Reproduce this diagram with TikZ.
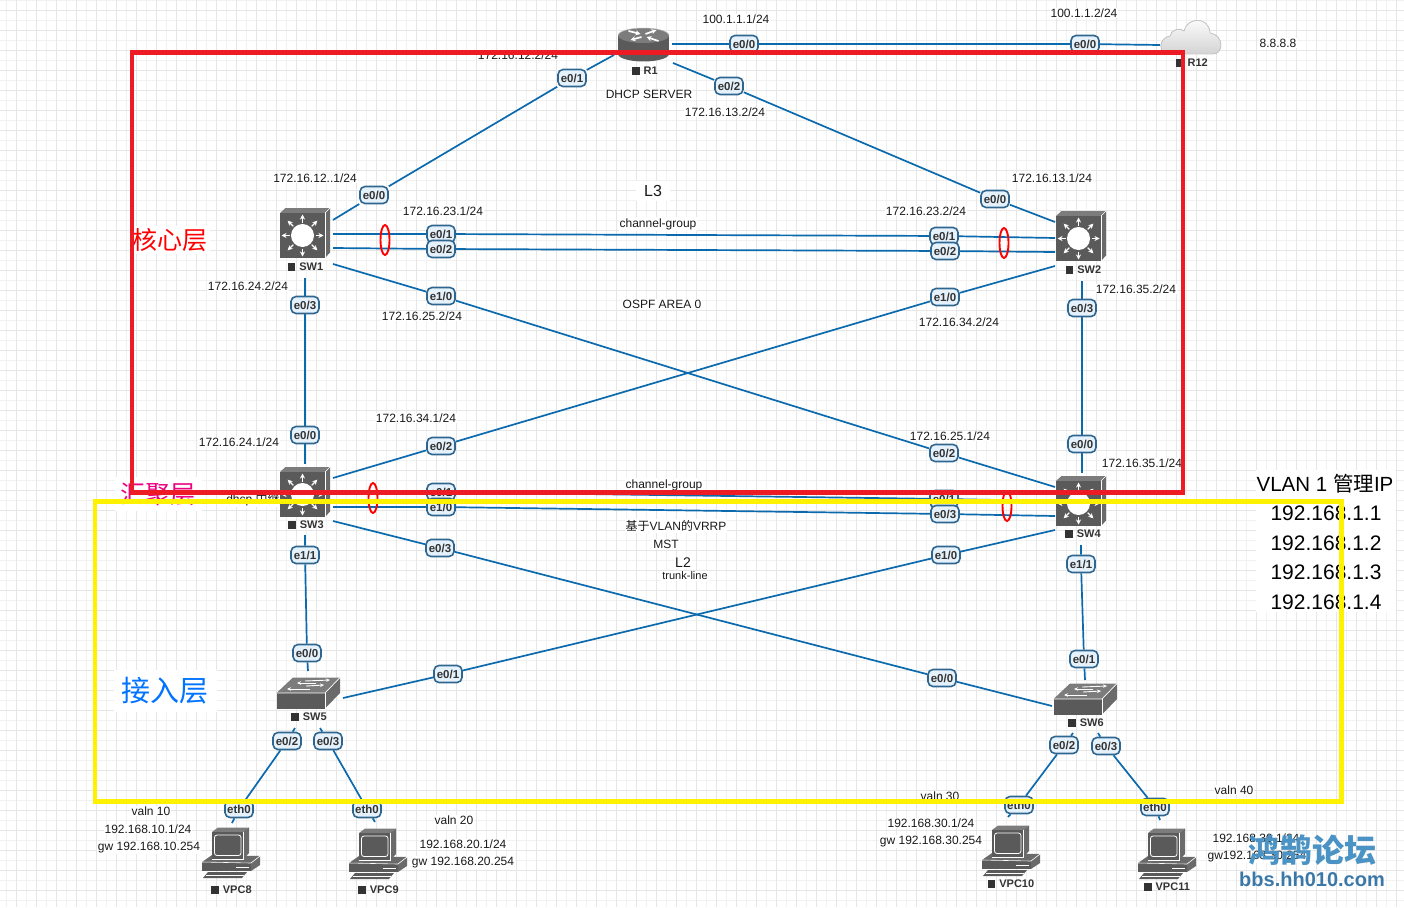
\documentclass[tikz,border=0pt]{standalone}
\usepackage{fontspec}
\setmainfont{Liberation Sans}
\newfontfamily\cjkf{Noto Sans CJK SC}
\usetikzlibrary{arrows.meta,shapes.geometric}
\pgfdeclarelayer{bg}
\pgfsetlayers{bg,main}
\definecolor{linkblue}{HTML}{0B69AD}
\definecolor{ifacefill}{HTML}{E6F2FB}
\definecolor{ifaceedge}{HTML}{2F6690}
\definecolor{devdark}{HTML}{5A5A5A}
\definecolor{devmid}{HTML}{6A6A6A}
\definecolor{devlite}{HTML}{7C7C7C}
\definecolor{gridmajor}{HTML}{E6E6E6}
\definecolor{gridminor}{HTML}{F1F1F1}
\definecolor{boxred}{HTML}{ED1C24}
\definecolor{boxyellow}{HTML}{FFF200}
\definecolor{markblack}{HTML}{333333}
\definecolor{forumcjk}{HTML}{4A93C4}
\definecolor{forumurl}{HTML}{3A78A8}
\newcommand{\fsz}[1]{\fontsize{#1}{#1}\selectfont}
\newcommand{\devmark}{\rule{7.5pt}{7.5pt}\hspace{4pt}}
\tikzset{
  link/.style={draw=linkblue,line width=1.7pt},
  iface/.style={draw=ifaceedge,fill=ifacefill,line width=1.6pt,rounded corners=5pt,
    minimum width=28pt,minimum height=17pt,inner sep=0pt,font=\fsz{11.5}\bfseries,text=black!80},
  txt/.style={fill=white,inner xsep=1pt,inner ysep=1pt,font=\fsz{12},text=black!90},
  devname/.style={inner sep=0pt,font=\fsz{11}\bfseries,text=markblack,anchor=center},
  lag/.style={draw=red,line width=1.9pt,ellipse,minimum width=9pt,minimum height=30pt,inner sep=0pt},
  icon arrow/.style={draw=white,line width=1.2pt,-{Stealth[length=5pt,width=5pt]}},
  pics/l3switch/.style={code={
    \fill[devlite] (-22.5,-22.5) -- (-17,-27.5) -- (27.5,-27.5) -- (22.5,-22.5) -- cycle;
    \fill[devmid] (22.5,-22.5) -- (27.5,-27.5) -- (27.5,17) -- (22.5,22.5) -- cycle;
    \fill[devdark] (-22.5,-22.5) rectangle (22.5,22.5);
    \draw[white,line width=.6pt] (22.5,-22.5) -- (27.5,-27.5);
    \draw[white,line width=.6pt] (22.5,-22.5) -- (22.5,22.5);
    \fill[white] (0,0) circle[radius=11.5pt];
    \foreach \a in {0,45,...,315}
      \draw[icon arrow] (\a:13pt) -- (\a:21pt);
  }},
  pics/router/.style={code={
    \fill[devdark] (-25.5,-7.5) rectangle (25.5,11);
    \fill[devdark] (0,11) ellipse[x radius=25.5pt,y radius=7.5pt];
    \fill[devlite] (0,-7.5) ellipse[x radius=25.5pt,y radius=7.5pt];
    \draw[white!75!black,line width=.5pt] (-25.5,-7.5) arc[start angle=180,end angle=360,x radius=25.5pt,y radius=-7.5pt];
    \draw[icon arrow,line width=1.7pt] (-2,-6) -- (-13,-3);
    \draw[icon arrow,line width=1.7pt] (-15,-12) -- (-3,-9);
    \draw[icon arrow,line width=1.7pt] (2,-9) -- (13,-13);
    \draw[icon arrow,line width=1.7pt] (15,-2) -- (3,-6);
  }},
  pics/l2switch/.style={code={
    \fill[devlite] (-31.5,0) -- (-15,-15.5) -- (32,-15.5) -- (17,0) -- cycle;
    \fill[devmid] (17,0) -- (32,-15.5) -- (32,0) -- (17,15.5) -- cycle;
    \fill[devdark] (-31.5,0) rectangle (17,15.5);
    \draw[white,line width=.7pt] (-31.5,0) -- (17,0) -- (32,-15.5);
    \draw[white,line width=.7pt] (17,0) -- (17,15.5);
    \draw[icon arrow,line width=.9pt,-{Stealth[length=4pt,width=3.5pt]}] (-3,-12) -- (22,-13);
    \draw[icon arrow,line width=.9pt,-{Stealth[length=4pt,width=3.5pt]}] (8,-10) -- (-11,-10);
    \draw[icon arrow,line width=.9pt,-{Stealth[length=4pt,width=3.5pt]}] (-2,-7) -- (16,-8);
    \draw[icon arrow,line width=.9pt,-{Stealth[length=4pt,width=3.5pt]}] (2,-4) -- (-21,-4);
  }},
  pics/desktop/.style={code={
    \fill[devmid] (-10,30) -- (0,23) -- (48,24) -- (39,31) -- cycle;
    \fill[devmid] (39,31) -- (48,24) -- (48,33) -- (39,39) -- cycle;
    \fill[devdark] (-10,30) rectangle (39,39);
    \draw[white,line width=.6pt] (-10,30) -- (39,31) -- (48,24);
    \draw[white,line width=1pt] (24,35) -- (37,35);
    \fill[devdark] (-4,40) -- (35,40) -- (30,46) -- (-9,46) -- cycle;
    \draw[white,line width=.6pt] (-6,43) -- (32,43);
    \fill[devlite] (0,0) -- (6,-4.5) -- (37,-4.5) -- (31,0) -- cycle;
    \fill[devmid] (31,0) -- (37,-4.5) -- (37,21) -- (31,27) -- cycle;
    \fill[devdark] (0,0) rectangle (31,27);
    \draw[white,line width=.7pt] (31,0) -- (31,27) -- (0,27);
    \draw[white,line width=.8pt,rounded corners=2.5pt] (2.5,3) rectangle (29,23.5);
  }},
}
\begin{document}
\begin{tikzpicture}[x=1pt,y=-1pt]
\useasboundingbox (0,0) rectangle (1404,907);

% Addressing and annotation texts
\node[txt] (ipr1a) at (736,19) {100.1.1.1/24};
\node[txt] (ipr12a) at (1084,13) {100.1.1.2/24};
\node[txt] (dns) at (1278,43) {8.8.8.8};
\node[txt] (ipr1b) at (518,55) {172.16.12.2/24};
\node[txt] (dhcpsrv) at (649,94) {DHCP SERVER};
\node[txt] (ipr1c) at (725,112) {172.16.13.2/24};
\node[txt] (ipsw1a) at (315,178) {172.16.12..1/24};
\node[txt] (ipsw2a) at (1052,178) {172.16.13.1/24};
\node[txt] (ipsw1b) at (443,211) {172.16.23.1/24};
\node[txt] (ipsw2b) at (926,211) {172.16.23.2/24};
\node[txt,inner xsep=8pt,inner ysep=4pt,font=\fsz{16}] (lthree) at (653,191) {L3};
\node[txt] (chan1) at (658,224) {channel-group};
\node[txt] (ipsw1c) at (248,286) {172.16.24.2/24};
\node[txt] (ipsw2c) at (1136,289) {172.16.35.2/24};
\node[txt] (ipsw1d) at (422,316) {172.16.25.2/24};
\node[txt] (ospf) at (662,304) {OSPF AREA 0};
\node[txt] (ipsw2d) at (959,322) {172.16.34.2/24};
\node[txt] (ipsw3a) at (416,418) {172.16.34.1/24};
\node[txt] (ipsw4a) at (950,436) {172.16.25.1/24};
\node[txt] (ipsw3b) at (239,442) {172.16.24.1/24};
\node[txt] (ipsw4b) at (1142,463) {172.16.35.1/24};
\node[txt] (chan2) at (664,485) {channel-group};
\node[txt] (relay) at (253,500) {dhcp {\cjkf 中继}};
\node[txt] (vrrp) at (676,526) {{\cjkf 基于}VLAN{\cjkf 的}VRRP};
\node[txt] (mst) at (666,544) {MST};
\node[txt,font=\fsz{14}] (ltwo) at (683,563) {L2};
\node[txt,font=\fsz{11}] (trunk) at (685,576) {trunk-line};

\node[txt] (v10a) at (151,811) {valn 10};
\node[txt] (v10b) at (148,829) {192.168.10.1/24};
\node[txt] (v10c) at (149,847.5) {gw 192.168.10.254};
\node[txt] (v20a) at (454,820) {valn 20};
\node[txt] (v20b) at (463,844) {192.168.20.1/24};
\node[txt] (v20c) at (463,862.5) {gw 192.168.20.254};
\node[txt] (v30a) at (940,796) {valn 30};
\node[txt] (v30b) at (931,823) {192.168.30.1/24};
\node[txt] (v30c) at (931,841.5) {gw 192.168.30.254};
\node[txt] (v40a) at (1234,790) {valn 40};
\node[txt] (v40b) at (1256,838) {192.168.30.1/24};
\node[txt] (v40c) at (1257,857) {gw192.168.30.254};

% Layer captions
\node[txt,inner sep=2pt,text=red,font=\cjkf\fsz{25}] (corecap) at (170,240) {核心层};
\node[txt,inner xsep=6pt,inner ysep=6pt,text=magenta!90!red,font=\cjkf\fsz{25}] (distcap) at (158,494) {汇聚层};
\node[txt,inner xsep=8pt,inner ysep=8pt,text=blue!55!cyan,font=\cjkf\fsz{29}] (acccap) at (165,691) {接入层};

% Management address panel
\fill[white] (1256,470) rectangle (1396,612);
\node[inner sep=0pt,font=\fsz{20.5}] (mgmt) at (1325,484) {VLAN 1 {\cjkf 管理}IP};
\node[inner sep=0pt,font=\fsz{21}] (mg1) at (1326,513) {192.168.1.1};
\node[inner sep=0pt,font=\fsz{21}] (mg2) at (1326,543) {192.168.1.2};
\node[inner sep=0pt,font=\fsz{21}] (mg3) at (1326,572) {192.168.1.3};
\node[inner sep=0pt,font=\fsz{21}] (mg4) at (1326,602) {192.168.1.4};

% Devices
\pic at (643.5,43) {router};
\fill[top color=white,bottom color=black!17,draw=black!22,line width=.8pt]
  (1169,54) .. controls (1158,54) and (1158,38) .. (1170,36)
  .. controls (1171,30) and (1180,27) .. (1184,31)
  .. controls (1187,17) and (1209,16) .. (1210,33)
  .. controls (1224,35) and (1224,54) .. (1213,54) -- cycle;
\pic at (302.5,235.5) {l3switch};
\pic at (1078.5,238.5) {l3switch};
\pic at (302.5,494.5) {l3switch};
\pic at (1078.5,503.5) {l3switch};
\pic at (308,693) {l2switch};
\pic at (1085,699) {l2switch};
\pic at (212,832) {desktop};
\pic at (359,833) {desktop};
\pic at (992,830) {desktop};
\pic at (1148,833) {desktop};

\node[devname] (r1) at (645,71) {\devmark R1};
\node[devname] (r12) at (1192,63) {\devmark R12};
\node[devname] (sw1) at (305.5,267) {\devmark SW1};
\node[devname] (sw2) at (1083.5,270) {\devmark SW2};
\node[devname] (sw3) at (306,525) {\devmark SW3};
\node[devname] (sw4) at (1083,534) {\devmark SW4};
\node[devname] (sw5) at (309,717) {\devmark SW5};
\node[devname] (sw6) at (1086,723) {\devmark SW6};
\node[devname] (vpc8) at (231.5,890) {\devmark VPC8};
\node[devname] (vpc9) at (378.5,890) {\devmark VPC9};
\node[devname] (vpc10) at (1011,884) {\devmark VPC10};
\node[devname] (vpc11) at (1167,887) {\devmark VPC11};

% Interface badges
\node[iface] (r1e00) at (744,44) {e0/0};
\node[iface] (r12e00) at (1085,44) {e0/0};
\node[iface] (r1e01) at (572,78) {e0/1};
\node[iface] (r1e02) at (729,86) {e0/2};
\node[iface] (sw1e00) at (374,195) {e0/0};
\node[iface] (sw2e00) at (995,199) {e0/0};
\node[iface] (sw1e01) at (441,234) {e0/1};
\node[iface] (sw2e01) at (944,236) {e0/1};
\node[iface] (sw1e02) at (441,249) {e0/2};
\node[iface] (sw2e02) at (945,251) {e0/2};
\node[iface] (sw1e10) at (441,296) {e1/0};
\node[iface] (sw4e02) at (944,453) {e0/2};
\node[iface] (sw2e10) at (945,297) {e1/0};
\node[iface] (sw3e02) at (441,446) {e0/2};
\node[iface] (sw1e03) at (305,305) {e0/3};
\node[iface] (sw3e00) at (305,435) {e0/0};
\node[iface] (sw2e03) at (1082,308) {e0/3};
\node[iface] (sw4e00) at (1082,444) {e0/0};
\node[iface] (sw3e01) at (441,492) {e0/1};
\node[iface] (sw4e01) at (944,499) {e0/1};
\node[iface] (sw3e10) at (441,507) {e1/0};
\node[iface] (sw4e03) at (945,514) {e0/3};
\node[iface] (sw3e03) at (440,548) {e0/3};
\node[iface] (sw6e00) at (942,678) {e0/0};
\node[iface] (sw4e10) at (946,555) {e1/0};
\node[iface] (sw5e01) at (448,674) {e0/1};
\node[iface] (sw3e11) at (305,555) {e1/1};
\node[iface] (sw5e00) at (307,653) {e0/0};
\node[iface] (sw4e11) at (1081,564) {e1/1};
\node[iface] (sw6e01) at (1084,659) {e0/1};
\node[iface] (sw5e02) at (287,741) {e0/2};
\node[iface] (sw5e03) at (328,741) {e0/3};
\node[iface] (sw6e02) at (1064,745) {e0/2};
\node[iface] (sw6e03) at (1106,746) {e0/3};
\node[iface] (vpc8e) at (239,809) {eth0};
\node[iface] (vpc9e) at (367,809) {eth0};
\node[iface] (vpc10e) at (1019,805) {eth0};
\node[iface] (vpc11e) at (1155,807) {eth0};

% Port-side ends of the links, just clear of each icon
\coordinate (r1pe) at (672,44);
\coordinate (r12p) at (1160,45);
\coordinate (r1pw) at (614,55);
\coordinate (r1ps) at (673,63);
\coordinate (sw1pa) at (333,220);
\coordinate (sw1pb) at (333,234);
\coordinate (sw1pc) at (333,248);
\coordinate (sw1pd) at (333,264);
\coordinate (sw1pe) at (305,278);
\coordinate (sw2pa) at (1055,222);
\coordinate (sw2pb) at (1055,238);
\coordinate (sw2pc) at (1055,252);
\coordinate (sw2pd) at (1055,266);
\coordinate (sw2pe) at (1082,281);
\coordinate (sw3pa) at (305,464);
\coordinate (sw3pb) at (333,478);
\coordinate (sw3pc) at (333,494);
\coordinate (sw3pd) at (333,507);
\coordinate (sw3pe) at (333,521);
\coordinate (sw3pf) at (305,535);
\coordinate (sw4pa) at (1082,473);
\coordinate (sw4pb) at (1055,487);
\coordinate (sw4pc) at (1055,501);
\coordinate (sw4pd) at (1055,516);
\coordinate (sw4pe) at (1055,530);
\coordinate (sw4pf) at (1081,545);
\coordinate (sw5pa) at (308,671);
\coordinate (sw5pb) at (343,698);
\coordinate (sw5pc) at (295,728);
\coordinate (sw5pd) at (320,728);
\coordinate (sw6pa) at (1085,680);
\coordinate (sw6pb) at (1052,706);
\coordinate (sw6pc) at (1073,733);
\coordinate (sw6pd) at (1098,733);
\coordinate (vpc8p) at (232,823);
\coordinate (vpc9p) at (375,822);
\coordinate (vpc10p) at (1008,817);
\coordinate (vpc11p) at (1160,820);

\begin{pgfonlayer}{bg}
  % Sheet grid
  \foreach \k in {0,...,140}
    \draw[gridminor,line width=.8pt] ({6.7+10*\k},0) -- ({6.7+10*\k},907);
  \foreach \k in {0,...,90}
    \draw[gridminor,line width=.8pt] (0,{10*\k}) -- (1404,{10*\k});
  \foreach \k in {0,...,69}
    \draw[gridmajor,line width=.9pt] ({16.7+20*\k},0) -- ({16.7+20*\k},907);
  \foreach \k in {0,...,44}
    \draw[gridmajor,line width=.9pt] (0,{10+20*\k}) -- (1404,{10+20*\k});
  % Links
  \draw[link] (r1pe) -- (r1e00) -- (r12e00) -- (r12p);
  \draw[link] (r1pw) -- (r1e01) -- (sw1e00) -- (sw1pa);
  \draw[link] (r1ps) -- (r1e02) -- (sw2e00) -- (sw2pa);
  \draw[link] (sw1pb) -- (sw1e01) -- (sw2e01) -- (sw2pb);
  \draw[link] (sw1pc) -- (sw1e02) -- (sw2e02) -- (sw2pc);
  \draw[link] (sw1pd) -- (sw1e10) -- (sw4e02) -- (sw4pb);
  \draw[link] (sw2pd) -- (sw2e10) -- (sw3e02) -- (sw3pb);
  \draw[link] (sw1pe) -- (sw1e03) -- (sw3e00) -- (sw3pa);
  \draw[link] (sw2pe) -- (sw2e03) -- (sw4e00) -- (sw4pa);
  \draw[link] (sw3pc) -- (sw3e01) -- (sw4e01) -- (sw4pc);
  \draw[link] (sw3pd) -- (sw3e10) -- (sw4e03) -- (sw4pd);
  \draw[link] (sw3pe) -- (sw3e03) -- (sw6e00) -- (sw6pb);
  \draw[link] (sw4pe) -- (sw4e10) -- (sw5e01) -- (sw5pb);
  \draw[link] (sw3pf) -- (sw3e11) -- (sw5e00) -- (sw5pa);
  \draw[link] (sw4pf) -- (sw4e11) -- (sw6e01) -- (sw6pa);
  \draw[link] (sw5pc) -- (sw5e02) -- (vpc8e) -- (vpc8p);
  \draw[link] (sw5pd) -- (sw5e03) -- (vpc9e) -- (vpc9p);
  \draw[link] (sw6pc) -- (sw6e02) -- (vpc10e) -- (vpc10p);
  \draw[link] (sw6pd) -- (sw6e03) -- (vpc11e) -- (vpc11p);
\end{pgfonlayer}

% Port-channel rings
\node[lag] (lag1) at (385,240) {};
\node[lag] (lag2) at (1004,243) {};
\node[lag] (lag3) at (373,498) {};
\node[lag] (lag4) at (1007,506) {};

% Layer frames
\draw[boxred,line width=4.6pt] (132,52.5) rectangle (1183,492.5);
\draw[boxyellow,line width=4.6pt] (95,501.5) rectangle (1341.5,801.5);

% Forum mark
\node[inner sep=0pt,text=forumcjk,font=\cjkf\bfseries\fsz{32}] (mark) at (1312,850) {鸿鹄论坛};
\node[inner sep=0pt,text=forumurl,font=\bfseries\fsz{20}] (site) at (1312,879) {bbs.hh010.com};
\end{tikzpicture}
\end{document}
